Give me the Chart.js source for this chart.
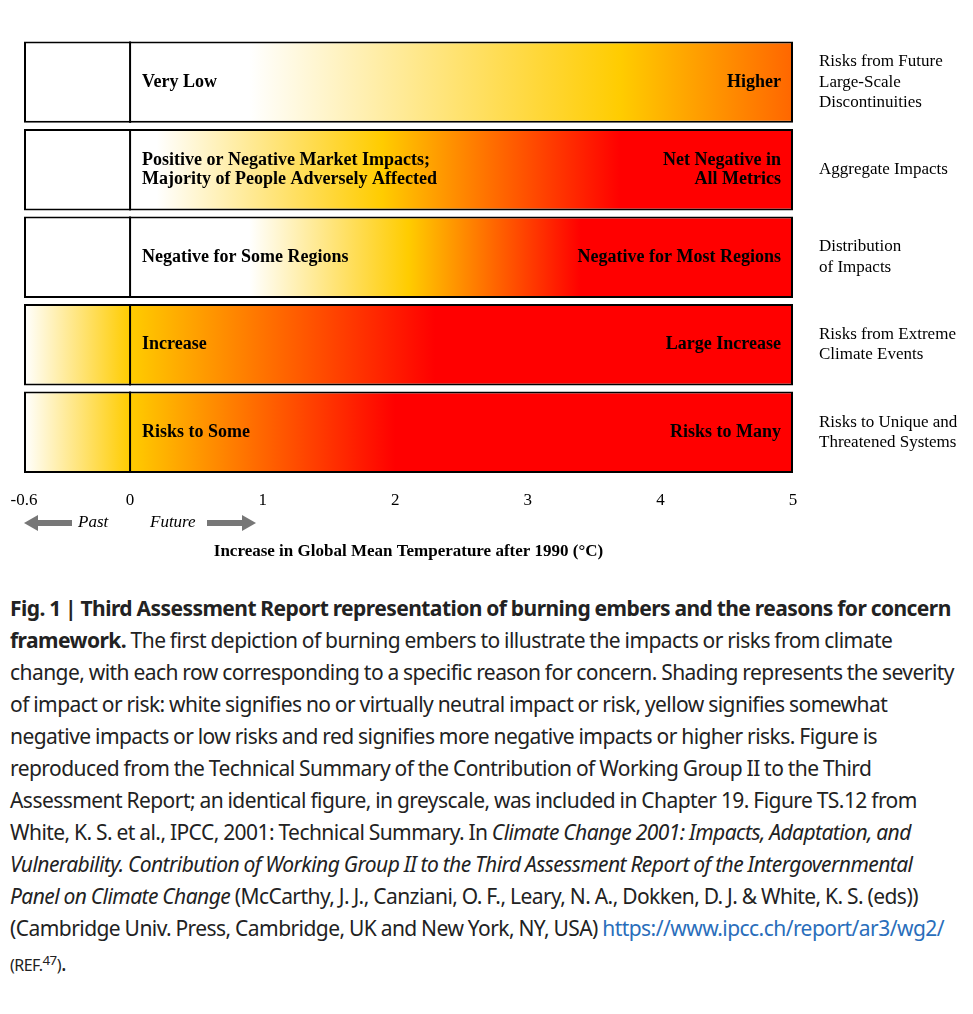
<!DOCTYPE html>
<html>
<head>
<meta charset="utf-8">
<script src="https://cdn.jsdelivr.net/npm/chart.js@4"></script>
<style>
  body { margin: 0; background: #fff; }
  #wrap { width: 973px; height: 570px; position: relative; }
  #cap { font-family: "Noto Sans", sans-serif; font-size: 21px; line-height: 32px; color: #222;
         margin: 22px 0 0 10px; width: 950px; letter-spacing: -0.55px; word-spacing: -0.5px; }
  #cap a { color: #2a6ebb; text-decoration: none; }
  #cap small { font-size: 16px; }
</style>
</head>
<body>
<div id="wrap"><canvas id="embers"></canvas></div>
<div id="cap"><b>Fig. 1 | Third Assessment Report representation of burning embers and the reasons for concern framework.</b> The first depiction of burning embers to illustrate the impacts or risks from climate change, with each row corresponding to a specific reason for concern. Shading represents the severity of impact or risk: white signifies no or virtually neutral impact or risk, yellow signifies somewhat negative impacts or low risks and red signifies more negative impacts or higher risks. Figure is reproduced from the Technical Summary of the Contribution of Working Group II to the Third Assessment Report; an identical figure, in greyscale, was included in Chapter 19. Figure TS.12 from White, K. S. et al., IPCC, 2001: Technical Summary. In <i>Climate Change 2001: Impacts, Adaptation, and Vulnerability. Contribution of Working Group II to the Third Assessment Report of the Intergovernmental Panel on Climate Change</i> (McCarthy, J. J., Canziani, O. F., Leary, N. A., Dokken, D. J. &amp; White, K. S. (eds)) (Cambridge Univ. Press, Cambridge, UK and New York, NY, USA) <a href="#">https://www.ipcc.ch/report/ar3/wg2/</a> <small>(REF.<sup>47</sup>)</small>.</div>
<script>
const reasons = [
  ['Risks from Future', 'Large-Scale', 'Discontinuities'],
  'Aggregate Impacts',
  ['Distribution', 'of Impacts'],
  ['Risks from Extreme', 'Climate Events'],
  ['Risks to Unique and', 'Threatened Systems']
];
const lowText = ['Very Low', ['Positive or Negative Market Impacts;', 'Majority of People Adversely Affected'],
  'Negative for Some Regions', 'Increase', 'Risks to Some'];
const highText = ['Higher', ['Net Negative in', 'All Metrics'], 'Negative for Most Regions', 'Large Increase', 'Risks to Many'];
// the figure's left edge is labelled -0.6 but sits where -0.8 would be on the linear scale
const tempRange = [-0.8, 5];
const tickValues = [-0.8, 0, 1, 2, 3, 4, 5];
const tickLabels = ['-0.6', '0', '1', '2', '3', '4', '5'];
// colour stops per row: [temperature, colour]
const emberStops = [
  [[0.9, '#ffffff'], [3.7, '#ffcc00'], [5, '#ff6600']],
  [[0.2, '#ffffff'], [1.9, '#ffcc00'], [3.7, '#ff0000']],
  [[0.9, '#ffffff'], [2.1, '#ffcc00'], [3.4, '#ff0000']],
  [[-0.8, '#ffffff'], [0.0, '#ffcc00'], [2.3, '#ff0000']],
  [[-0.8, '#ffffff'], [0.0, '#ffcc00'], [2.0, '#ff0000']]
];

function emberFill(ctx) {
  const chart = ctx.chart;
  if (!chart.chartArea) return '#fff';
  const x = chart.scales.x;
  const x0 = x.getPixelForValue(tempRange[0]), x1 = x.getPixelForValue(tempRange[1]);
  const g = chart.ctx.createLinearGradient(x0, 0, x1, 0);
  emberStops[ctx.dataIndex].forEach(s => g.addColorStop((s[0] - tempRange[0]) / (tempRange[1] - tempRange[0]), s[1]));
  return g;
}

const overlay = {
  id: 'overlay',
  afterDatasetsDraw(chart) {
    const c = chart.ctx, x = chart.scales.x;
    const meta = chart.getDatasetMeta(0);
    const zx = x.getPixelForValue(0), fx = x.getPixelForValue(5);
    c.save();
    meta.data.forEach((bar, i) => {
      const top = bar.y - bar.height / 2, bot = bar.y + bar.height / 2;
      c.strokeStyle = '#000'; c.lineWidth = 2;
      c.beginPath(); c.moveTo(zx, top); c.lineTo(zx, bot); c.stroke();
      c.fillStyle = '#000';
      c.font = 'bold 18px "Liberation Serif"';
      c.textBaseline = 'middle';
      const put = (t, px, align) => {
        const lines = Array.isArray(t) ? t : [t];
        c.textAlign = align;
        lines.forEach((l, k) => c.fillText(l, px, bar.y + (k - (lines.length - 1) / 2) * 19));
      };
      put(lowText[i], zx + 12, 'left');
      put(highText[i], fx - 12, 'right');
    });
    // past / future arrows
    const ay = chart.chartArea.bottom + 47;
    c.fillStyle = '#777';
    const arrow = (from, to) => {
      const d = Math.sign(to - from);
      c.fillRect(Math.min(from, to - d * 12), ay - 3, Math.abs(to - d * 12 - from), 6);
      c.beginPath(); c.moveTo(to, ay); c.lineTo(to - d * 14, ay - 8); c.lineTo(to - d * 14, ay + 8); c.closePath(); c.fill();
    };
    arrow(72, 24);
    arrow(207, 256);
    c.fillStyle = '#000';
    c.font = 'italic 17px "Liberation Serif"';
    c.textAlign = 'left';
    c.fillText('Past', 78, ay);
    c.fillText('Future', 150, ay);
    c.restore();
  }
};

new Chart(document.getElementById('embers'), {
  type: 'bar',
  data: {
    labels: reasons,
    datasets: [{
      data: reasons.map(() => tempRange),
      backgroundColor: emberFill,
      borderColor: '#000',
      borderWidth: 2,
      borderSkipped: false,
      barPercentage: 0.93,
      categoryPercentage: 1
    }]
  },
  options: {
    indexAxis: 'y',
    responsive: true,
    maintainAspectRatio: false,
    animation: false,
    layout: { padding: { left: 24, top: 0, right: 0, bottom: 0 } },
    plugins: { legend: { display: false }, tooltip: { enabled: false } },
    scales: {
      x: {
        type: 'linear', min: tempRange[0], max: tempRange[1],
        grid: { display: false }, border: { display: false },
        afterBuildTicks: s => { s.ticks = tickValues.map(v => ({ value: v })); },
        afterFit: s => { s.height = 94; },
        ticks: { color: '#000', font: { family: 'Liberation Serif', size: 17 }, padding: 6, maxRotation: 0,
                 callback: (v, i) => tickLabels[i] },
        title: { display: true, text: 'Increase in Global Mean Temperature after 1990 (°C)', color: '#000',
                 font: { family: 'Liberation Serif', size: 17, weight: 'bold' }, padding: { top: 0, bottom: 8 } }
      },
      y: {
        position: 'right',
        grid: { display: false }, border: { display: false },
        afterFit: s => { s.width = 180; },
        ticks: { color: '#000', font: { family: 'Liberation Serif', size: 17 }, padding: 18, crossAlign: 'near' }
      }
    }
  }
  ,
  plugins: [overlay]
});
</script>
</body>
</html>
